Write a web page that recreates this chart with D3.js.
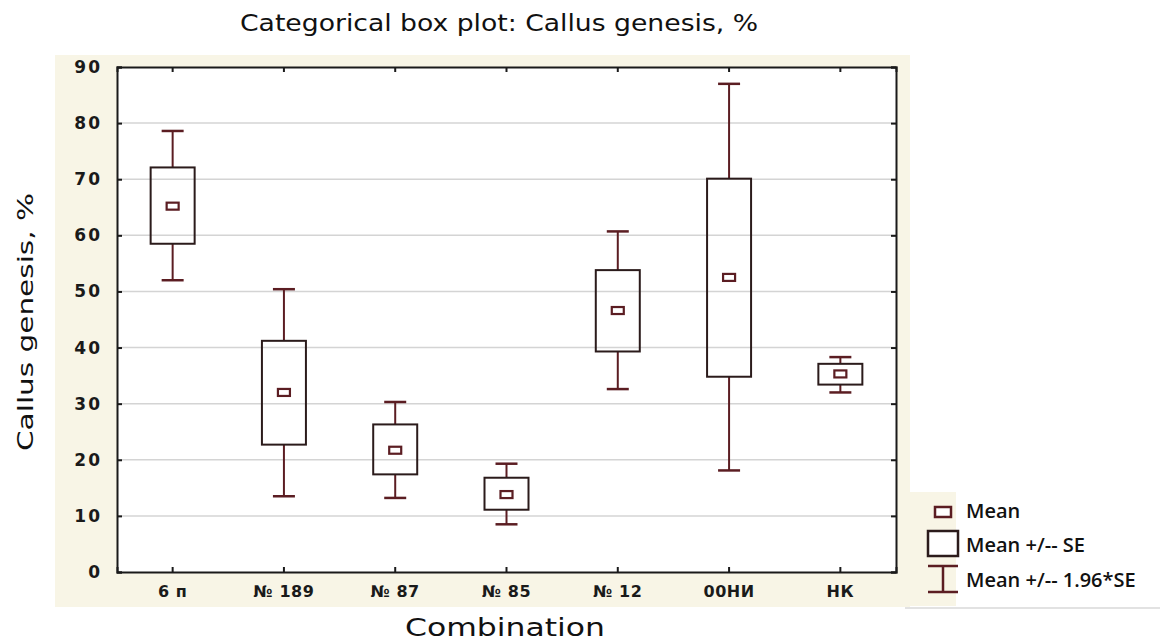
<!DOCTYPE html>
<html><head><meta charset="utf-8">
<script src="https://cdn.jsdelivr.net/npm/d3@7"></script>
<style>body{margin:0;background:#fff;} svg{display:block;}</style>
</head><body>
<svg id="c" width="1160" height="642"></svg>
<script>
const categories = ["6 п", "№ 189", "№ 87", "№ 85", "№ 12", "00НИ", "НК"];
const means      = [65.2, 32.0, 21.7, 13.8, 46.6, 52.5, 35.3];
const seLow      = [58.5, 22.7, 17.4, 11.1, 39.3, 34.8, 33.4];
const seHigh     = [72.1, 41.2, 26.3, 16.8, 53.8, 70.1, 37.1];
const ciLow      = [52.0, 13.5, 13.2, 8.5, 32.6, 18.1, 32.0];
const ciHigh     = [78.6, 50.4, 30.3, 19.3, 60.7, 87.0, 38.3];
const yTicks     = [0, 10, 20, 30, 40, 50, 60, 70, 80, 90];
const legendLabels = ["Mean", "Mean +/-- SE", "Mean +/-- 1.96*SE"];

const svg = d3.select("#c");
const M = {left:117, right:896, top:67, bottom:572};
const boxCol = "#2b1b1b", whCol = "#5b1d22";

svg.append("rect").attr("x",55).attr("y",55).attr("width",855).attr("height",552).attr("fill","#f8f5e6");
svg.append("rect").attr("x",M.left).attr("y",M.top).attr("width",M.right-M.left).attr("height",M.bottom-M.top).attr("fill","#fff");

const x = d3.scaleBand().domain(categories).range([M.left, M.right]);
const y = d3.scaleLinear().domain([0, 90]).range([M.bottom, M.top]);

svg.append("g").selectAll("line").data(yTicks.filter(d=>d>0&&d<90)).join("line")
  .attr("x1",M.left).attr("x2",M.right).attr("y1",d=>y(d)).attr("y2",d=>y(d))
  .attr("stroke","#d4d4d4").attr("stroke-width",1.5);

const tickFont = "'DejaVu Sans', sans-serif";
const gl = svg.append("g").attr("transform",`translate(${M.left},0)`)
  .call(d3.axisLeft(y).tickValues(yTicks).tickSize(-5).tickPadding(15).tickFormat(d3.format("d")));
const gr = svg.append("g").attr("transform",`translate(${M.right},0)`)
  .call(d3.axisRight(y).tickValues(yTicks).tickSize(-5).tickFormat(""));
const gb = svg.append("g").attr("transform",`translate(0,${M.bottom})`)
  .call(d3.axisBottom(x).tickSize(-5).tickPadding(14));
const gt = svg.append("g").attr("transform",`translate(0,${M.top})`)
  .call(d3.axisTop(x).tickSize(-5).tickFormat(""));
[gl,gr,gb,gt].forEach(g=>{
  g.select(".domain").attr("stroke","#1a1a1a").attr("stroke-width",2);
  g.selectAll(".tick line").attr("stroke","#1a1a1a").attr("stroke-width",2);
  g.selectAll(".tick text").attr("fill","#1a1a1a").attr("font-family",tickFont)
   .attr("font-weight","bold").attr("font-size",16);
});
gl.selectAll(".tick text").attr("font-size",17).attr("letter-spacing","2px");
gb.selectAll(".tick text").attr("dy","0.71em").attr("letter-spacing","0.5px");

const bw = 44, cap = 22;
const g = svg.append("g");
categories.forEach((c,i)=>{
  const cx = x(c) + x.bandwidth()/2;
  g.append("line").attr("x1",cx).attr("x2",cx).attr("y1",y(ciHigh[i])).attr("y2",y(seHigh[i])).attr("stroke",whCol).attr("stroke-width",2);
  g.append("line").attr("x1",cx).attr("x2",cx).attr("y1",y(seLow[i])).attr("y2",y(ciLow[i])).attr("stroke",whCol).attr("stroke-width",2);
  g.append("line").attr("x1",cx-cap/2).attr("x2",cx+cap/2).attr("y1",y(ciHigh[i])).attr("y2",y(ciHigh[i])).attr("stroke",whCol).attr("stroke-width",2.5);
  g.append("line").attr("x1",cx-cap/2).attr("x2",cx+cap/2).attr("y1",y(ciLow[i])).attr("y2",y(ciLow[i])).attr("stroke",whCol).attr("stroke-width",2.5);
  g.append("rect").attr("x",cx-bw/2).attr("y",y(seHigh[i])).attr("width",bw).attr("height",y(seLow[i])-y(seHigh[i]))
    .attr("fill","none").attr("stroke",boxCol).attr("stroke-width",2);
  g.append("rect").attr("x",cx-6).attr("y",y(means[i])-3.5).attr("width",12).attr("height",7)
    .attr("fill","#fff").attr("stroke",whCol).attr("stroke-width",2.2);
});

const lblFont = "'DejaVu Sans', sans-serif";
svg.append("text").attr("x",499).attr("y",31).attr("text-anchor","middle")
  .attr("font-family",lblFont).attr("font-size",23).attr("fill","#111")
  .attr("textLength",518).attr("lengthAdjust","spacingAndGlyphs")
  .text("Categorical box plot: Callus genesis, %");
svg.append("text").attr("transform","translate(33,322) rotate(-90)").attr("text-anchor","middle")
  .attr("font-family",lblFont).attr("font-size",22).attr("fill","#111")
  .attr("textLength",258).attr("lengthAdjust","spacingAndGlyphs")
  .text("Callus genesis, %");
svg.append("text").attr("x",505).attr("y",636).attr("text-anchor","middle")
  .attr("font-family",lblFont).attr("font-size",24).attr("fill","#111")
  .attr("textLength",200).attr("lengthAdjust","spacingAndGlyphs")
  .text("Combination");

const lg = svg.append("g");
lg.append("rect").attr("x",908).attr("y",492).attr("width",48).attr("height",114).attr("fill","#f8f5e6");
lg.append("line").attr("x1",905).attr("x2",1160).attr("y1",608).attr("y2",608).attr("stroke","#d8d8d8").attr("stroke-width",1.5);
const lx = 943;
lg.append("rect").attr("x",lx-8).attr("y",507).attr("width",16).attr("height",10).attr("fill","#fff").attr("stroke",whCol).attr("stroke-width",2.5);
lg.append("rect").attr("x",lx-15).attr("y",531).attr("width",30).attr("height",25).attr("fill","#fff").attr("stroke",boxCol).attr("stroke-width",2.5);
lg.append("line").attr("x1",lx-15).attr("x2",lx+15).attr("y1",566).attr("y2",566).attr("stroke",whCol).attr("stroke-width",2.5);
lg.append("line").attr("x1",lx).attr("x2",lx).attr("y1",566).attr("y2",592).attr("stroke",whCol).attr("stroke-width",2.5);
lg.append("line").attr("x1",lx-15).attr("x2",lx+15).attr("y1",592).attr("y2",592).attr("stroke",whCol).attr("stroke-width",2.5);
const legY = [511, 545, 580];
lg.selectAll("text.lt").data(legendLabels).join("text").attr("class","lt")
  .attr("x",966).attr("y",(d,i)=>legY[i]).attr("dy","0.35em")
  .attr("font-family","'Open Sans', sans-serif").attr("font-weight",600).attr("font-size",20).attr("fill","#111")
  .text(d=>d);
</script>
</body></html>
